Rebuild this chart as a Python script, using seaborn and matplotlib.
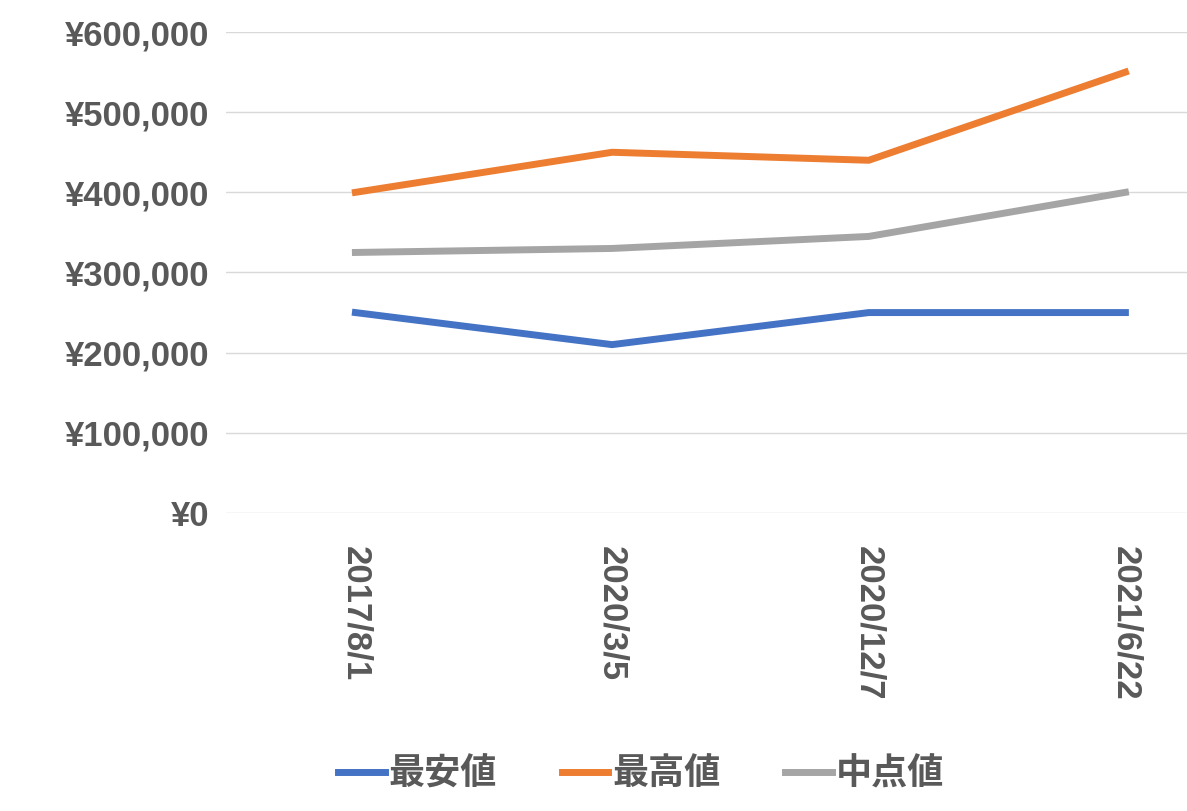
import matplotlib
matplotlib.use("Agg")
import matplotlib.pyplot as plt
import matplotlib.ticker as mticker
import pandas as pd
import seaborn as sns

dates = ["2017/8/1", "2020/3/5", "2020/12/7", "2021/6/22"]
low = [250000, 210000, 250000, 250000]
high = [400000, 450000, 440000, 550000]
mid = [325000, 330000, 345000, 400000]

df = pd.DataFrame({"date": dates * 3,
                   "value": low + high + mid,
                   "series": ["最安値"] * 4 + ["最高値"] * 4 + ["中点値"] * 4})

plt.rcParams["font.family"] = ["Liberation Sans", "Noto Sans CJK JP"]
grey = "#595959"

fig = plt.figure(figsize=(11.87, 8.11), dpi=100)
ax = fig.add_axes([0.19, 0.3675, 0.81, 0.593])
sns.lineplot(data=df, x="date", y="value", hue="series", sort=False,
             palette=["#4472C4", "#ED7D31", "#A5A5A5"], linewidth=5, ax=ax)

ax.set_xlim(-0.506, 3.24)
ax.set_ylim(0, 600000)
ax.yaxis.set_major_locator(mticker.MultipleLocator(100000))
ax.yaxis.set_major_formatter(mticker.FuncFormatter(lambda v, p: f"¥{int(v):,}"))
ax.grid(axis="y", color="#D9D9D9", linewidth=1)
ax.set_axisbelow(True)
for s in ax.spines.values():
    s.set_visible(False)
ax.tick_params(length=0, colors=grey, labelsize=25, pad=12)
ax.tick_params(axis="x", pad=24)
for t in ax.get_yticklabels():
    t.set_fontweight("bold")
for t in ax.get_xticklabels():
    t.set_fontweight("bold")
    t.set_rotation(-90)
    t.set_va("top")
ax.set_xlabel("")
ax.set_ylabel("")

h, l = ax.get_legend_handles_labels()
ax.get_legend().remove()
leg = fig.legend(h, l, loc="center", bbox_to_anchor=(0.54, 0.045), ncol=3,
                 frameon=False, handlelength=1.3, columnspacing=1.8, handletextpad=0.1,
                 prop={"family": "Noto Sans CJK JP", "weight": "bold", "size": 26})
for t in leg.get_texts():
    t.set_color(grey)

fig.savefig("out.png", dpi=100)
